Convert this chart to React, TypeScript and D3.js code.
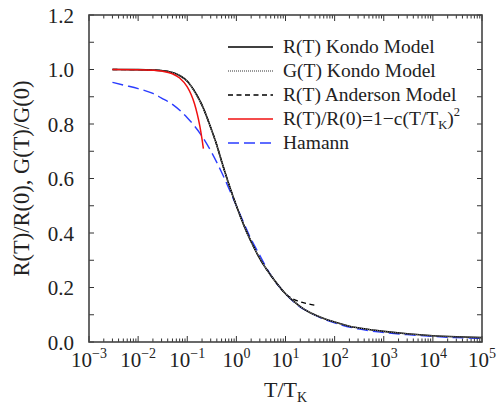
import React from "react";
import * as d3 from "d3";

// Reduced temperature T/T_K sampling points and normalized resistance / conductance
const kondoT = [0.003, 0.005, 0.01, 0.02, 0.03, 0.05, 0.07, 0.1, 0.15, 0.2, 0.3, 0.4, 0.5, 0.7, 1, 1.5, 2, 3, 5, 7, 10, 15, 20, 30, 50, 100, 200, 500, 1000, 3000, 10000, 30000, 100000];
const kondoR = [1.0, 0.9998, 0.9995, 0.998, 0.996, 0.989, 0.978, 0.957, 0.912, 0.869, 0.787, 0.722, 0.663, 0.58, 0.5, 0.418, 0.368, 0.306, 0.245, 0.21, 0.177, 0.148, 0.13, 0.11, 0.092, 0.073, 0.058, 0.046, 0.039, 0.03, 0.023, 0.019, 0.016];
const kondoG = [1.0, 0.9998, 0.9994, 0.998, 0.9958, 0.9885, 0.9775, 0.956, 0.911, 0.868, 0.786, 0.721, 0.662, 0.579, 0.5, 0.418, 0.368, 0.306, 0.245, 0.21, 0.177, 0.148, 0.13, 0.11, 0.092, 0.073, 0.058, 0.046, 0.039, 0.03, 0.023, 0.019, 0.016];

const andersonT = [0.003, 0.005, 0.01, 0.02, 0.03, 0.05, 0.07, 0.1, 0.15, 0.2, 0.3, 0.4, 0.5, 0.7, 1, 1.5, 2, 3, 5, 7, 10, 13, 17, 22, 30, 40];
const andersonR = [1.0, 0.9998, 0.9995, 0.998, 0.996, 0.989, 0.978, 0.957, 0.912, 0.869, 0.787, 0.722, 0.663, 0.58, 0.5, 0.418, 0.368, 0.306, 0.245, 0.21, 0.177, 0.162, 0.152, 0.145, 0.139, 0.135];

const fermiT = [0.003, 0.01, 0.02, 0.03, 0.05, 0.07, 0.1, 0.12, 0.14, 0.16, 0.18, 0.2, 0.213];
const fermiR = [1.0, 0.9994, 0.9974, 0.9942, 0.984, 0.9686, 0.936, 0.908, 0.875, 0.836, 0.793, 0.744, 0.71];

const hamannT = [0.003, 0.005, 0.01, 0.02, 0.03, 0.05, 0.1, 0.2, 0.3, 0.5, 1, 2, 3, 5, 10, 20, 30, 50, 100, 300, 1000, 3000, 10000, 30000, 100000];
const hamannR = [0.953, 0.943, 0.93, 0.912, 0.895, 0.872, 0.823, 0.755, 0.702, 0.623, 0.5, 0.377, 0.318, 0.246, 0.177, 0.128, 0.11, 0.09, 0.07, 0.048, 0.035, 0.027, 0.0205, 0.016, 0.0134];

const xDecades = [-3, -2, -1, 0, 1, 2, 3, 4, 5];
const yTicks = [0, 0.2, 0.4, 0.6, 0.8, 1.0, 1.2];
const yMinor = [0.1, 0.3, 0.5, 0.7, 0.9, 1.1];

const legendItems = [
  { key: "rk", label: "R(T) Kondo Model", color: "#000", dash: "none", width: 1.6 },
  { key: "gk", label: "G(T) Kondo Model", color: "#777", dash: "1,1", width: 1.3 },
  { key: "ra", label: "R(T) Anderson Model", color: "#000", dash: "5,3.5", width: 1.3 },
  { key: "fl", label: "fermi", color: "#f01010", dash: "none", width: 1.5 },
  { key: "hm", label: "Hamann", color: "#2a3cff", dash: "11,5", width: 1.4 },
];

const SERIF = "Liberation Serif";

export default function App() {
  const W = 498, H = 409;
  const L = 89, R = 482, T = 15, B = 342;
  const x = d3.scaleLog().domain([1e-3, 1e5]).range([L, R]);
  const y = d3.scaleLinear().domain([0, 1.2]).range([B, T]);

  const mk = (ts: number[], vs: number[]) =>
    d3.line<number>().x((_, i) => x(ts[i])).y((v) => y(v)).curve(d3.curveMonotoneX)(vs) || "";

  const minorX: number[] = [];
  for (let e = -3; e < 5; e++) for (let k = 2; k <= 9; k++) minorX.push(k * Math.pow(10, e));

  const tickColor = "#333";

  return (
    <svg width={W} height={H} style={{ display: "block", position: "absolute", left: 0, top: 0 }}>
      <style>{`.lbl { font-family: "Liberation Serif", "Times New Roman", Tinos, serif !important; }`}</style>
      <rect x={0} y={0} width={W} height={H} fill="#fff" />
      <defs>
        <clipPath id="plotclip">
          <rect x={L} y={T} width={R - L} height={B - T} />
        </clipPath>
      </defs>

      {/* ticks */}
      <g stroke={tickColor} strokeWidth={1}>
        {xDecades.map((e) => (
          <g key={"xd" + e}>
            <line x1={x(Math.pow(10, e))} x2={x(Math.pow(10, e))} y1={B} y2={B - 6} />
            <line x1={x(Math.pow(10, e))} x2={x(Math.pow(10, e))} y1={T} y2={T + 6} />
          </g>
        ))}
        {minorX.map((v, i) => (
          <g key={"xm" + i}>
            <line x1={x(v)} x2={x(v)} y1={B} y2={B - 3.5} />
            <line x1={x(v)} x2={x(v)} y1={T} y2={T + 3.5} />
          </g>
        ))}
        {[...yTicks, ...yMinor].map((v, i) => (
          <g key={"y" + i}>
            <line x1={L} x2={L + 5} y1={y(v)} y2={y(v)} />
            <line x1={R} x2={R - 5} y1={y(v)} y2={y(v)} />
          </g>
        ))}
      </g>

      {/* curves */}
      <g clipPath="url(#plotclip)" fill="none">
        <path d={mk(hamannT, hamannR)} stroke="#2a3cff" strokeWidth={1.4} strokeDasharray="11,5" />
        <path d={mk(andersonT, andersonR)} stroke="#000" strokeWidth={1.3} strokeDasharray="5,3.5" />
        <path d={mk(kondoT, kondoR)} stroke="#000" strokeWidth={1.6} />
        <path d={mk(kondoT, kondoG)} stroke="#888" strokeWidth={1.2} strokeDasharray="1,1" />
        <path d={mk(fermiT, fermiR)} stroke="#f01010" strokeWidth={1.5} />
      </g>

      {/* frame */}
      <rect x={L} y={T} width={R - L} height={B - T} fill="none" stroke="#444" strokeWidth={1.6} />

      {/* y tick labels */}
      {yTicks.map((v) => (
        <text key={"yl" + v} className="lbl" fontFamily={SERIF} x={L - 15} y={y(v) + 7.5} fontSize={21} fill="#222" textAnchor="end">
          {v.toFixed(1)}
        </text>
      ))}

      {/* x tick labels */}
      {xDecades.map((e) => (
        <text key={"xl" + e} className="lbl" fontFamily={SERIF} x={x(Math.pow(10, e))} y={B + 25} fontSize={21} fill="#222" textAnchor="middle">
          10<tspan fontSize={14} dy={-9}>{e < 0 ? "\u2212" + Math.abs(e) : String(e)}</tspan>
        </text>
      ))}

      {/* axis titles */}
      <text className="lbl" fontFamily={SERIF} x={(L + R) / 2} y={B + 55} fontSize={22} fill="#222" textAnchor="middle">
        T/T<tspan fontSize={14} dy={5}>K</tspan>
      </text>
      <text className="lbl" fontFamily={SERIF} transform={`translate(29, ${(T + B) / 2}) rotate(-90)`} fontSize={22.5} fill="#222" textAnchor="middle">
        R(T)/R(0), G(T)/G(0)
      </text>

      {/* legend */}
      {legendItems.map((it, i) => {
        const ly = 47 + i * 24;
        return (
          <g key={it.key}>
            <line x1={228} x2={273} y1={ly} y2={ly} stroke={it.color} strokeWidth={it.width} strokeDasharray={it.dash} />
            {it.key === "fl" ? (
              <text className="lbl" fontFamily={SERIF} x={283} y={ly + 6} fontSize={19.5} fill="#222">
                R(T)/R(0)=1{"\u2212"}c(T/T<tspan fontSize={12.5} dy={4}>K</tspan>
                <tspan dy={-4}>)</tspan>
                <tspan fontSize={12.5} dy={-9}>2</tspan>
              </text>
            ) : (
              <text className="lbl" fontFamily={SERIF} x={283} y={ly + 6} fontSize={19.5} fill="#222">{it.label}</text>
            )}
          </g>
        );
      })}
    </svg>
  );
}
